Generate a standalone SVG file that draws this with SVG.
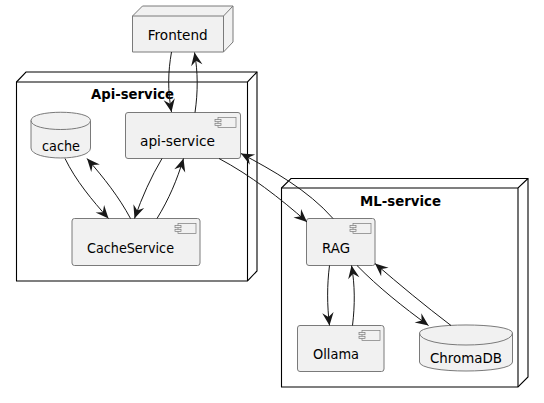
<svg xmlns="http://www.w3.org/2000/svg" width="544" height="403" viewBox="0 0 544 403">
<style>
.container{fill:#fff;stroke:#000;stroke-width:1.1}
.node{fill:#f1f1f1;stroke:#7a7a7a;stroke-width:1}
.line{fill:none;stroke:#7a7a7a;stroke-width:1}
.cline{fill:none;stroke:#000;stroke-width:1.1}
.ic{fill:#f1f1f1;stroke:#7a7a7a;stroke-width:.7}
.t{font-family:"DejaVu Sans",sans-serif;font-size:14.500px;fill:#000;text-anchor:middle}
.title{font-weight:bold}
.c{fill:none;stroke:#181818;stroke-width:1;marker-end:url(#a)}
</style>
<defs>
<marker id="a" markerUnits="userSpaceOnUse" markerWidth="16" markerHeight="14" refX="13.500" refY="7" orient="auto"><path d="M13.500,7 L0.500,1.300 L5,7 L0.500,12.700 Z" fill="#181818"/></marker>
<g id="ci"><rect x="-14" y="0" width="18" height="10" class="ic"/><rect x="-17" y="2" width="6" height="2.200" class="ic"/><rect x="-17" y="5.800" width="6" height="2.200" class="ic"/></g>
</defs>
<rect width="544" height="403" fill="#fff"/>
<g id="Frontend">
<path class="node" d="M132.500,16 L142.500,6 L233,6 L233,42 L223.500,52 L132.500,52 Z"/>
<path class="line" d="M132.500,16 L223.500,16 L233,6 M223.500,16 L223.500,52"/>
<text class="t" x="177.700" y="40" textLength="60" lengthAdjust="spacingAndGlyphs">Frontend</text>
</g>
<g id="Api-service">
<path class="container" d="M16.500,82 L26,72 L257,72 L257,271 L247.500,281 L16.500,281 Z"/>
<path class="cline" d="M16.500,82 L247.500,82 L257,72 M247.500,82 L247.500,281"/>
<text class="t title" x="132.500" y="98.500" textLength="83" lengthAdjust="spacingAndGlyphs">Api-service</text>
</g>
<g id="ML-service">
<path class="container" d="M281.500,188 L291,178.500 L528,178.500 L528,377 L518,387 L281.500,387 Z"/>
<path class="cline" d="M281.500,188 L518,188 L528,178.500 M518,188 L518,387"/>
<text class="t title" x="400.500" y="205.700" textLength="81" lengthAdjust="spacingAndGlyphs">ML-service</text>
</g>
<g id="cache">
<path class="node" d="M31,120.500 C31,109.500 90.500,109.500 90.500,120.500 L90.500,148 C90.500,161.300 31,161.300 31,148 Z"/>
<path class="line" d="M31,120.500 C31,132.500 90.500,132.500 90.500,120.500"/>
<text class="t" x="61" y="151" textLength="38" lengthAdjust="spacingAndGlyphs">cache</text>
</g>
<g id="api-service">
<rect class="node" x="125.500" y="112.500" width="115" height="46" rx="2.500"/>
<use href="#ci" x="232" y="117.500"/>
<text class="t" x="177.500" y="146" textLength="75" lengthAdjust="spacingAndGlyphs">api-service</text>
</g>
<g id="CacheService">
<rect class="node" x="72" y="218.500" width="128" height="47" rx="2.500"/>
<use href="#ci" x="192" y="223.500"/>
<text class="t" x="130.500" y="253" textLength="87" lengthAdjust="spacingAndGlyphs">CacheService</text>
</g>
<g id="RAG">
<rect class="node" x="306.500" y="218.500" width="68.500" height="47" rx="2.500"/>
<use href="#ci" x="367" y="223.500"/>
<text class="t" x="336" y="252.700" textLength="28" lengthAdjust="spacingAndGlyphs">RAG</text>
</g>
<g id="Ollama">
<rect class="node" x="297.500" y="325.500" width="86.500" height="46" rx="2.500"/>
<use href="#ci" x="376" y="330.500"/>
<text class="t" x="336" y="358.700" textLength="46" lengthAdjust="spacingAndGlyphs">Ollama</text>
</g>
<g id="ChromaDB">
<path class="node" d="M419.500,333 C419.500,322.300 512.500,322.300 512.500,333 L512.500,362 C512.500,374 419.500,374 419.500,362 Z"/>
<path class="line" d="M419.500,333 C419.500,349 512.500,349 512.500,333"/>
<text class="t" x="466" y="362.700" textLength="72" lengthAdjust="spacingAndGlyphs">ChromaDB</text>
</g>
<g id="connectors">
<path class="c" d="M171.500,52 C168,72 167.500,90 171.500,112"/>
<path class="c" d="M195,112.500 C198,92 198,72 194.500,52.500"/>
<path class="c" d="M65,158.500 C76,181 92,200 108.500,218.500"/>
<path class="c" d="M130.500,218.500 C119,197 104,178 87,158.500"/>
<path class="c" d="M162,158.500 C151,177 142,197 134.500,218.500"/>
<path class="c" d="M157,218.500 C169,199 177,180 183.500,158.500"/>
<path class="c" d="M219,158.500 C250,175 280,198 307,222"/>
<path class="c" d="M333,218.500 C308,190 272,170 241,153.500"/>
<path class="c" d="M329.500,265.500 C327,285 327,305 329.500,325.500"/>
<path class="c" d="M352.500,325.500 C355,305 355,285 351.500,265.500"/>
<path class="c" d="M357,265.500 C378,287 403,307 428.500,325.500"/>
<path class="c" d="M451,325.500 C424,305 400,285 375,263.500"/>
</g>
</svg>
